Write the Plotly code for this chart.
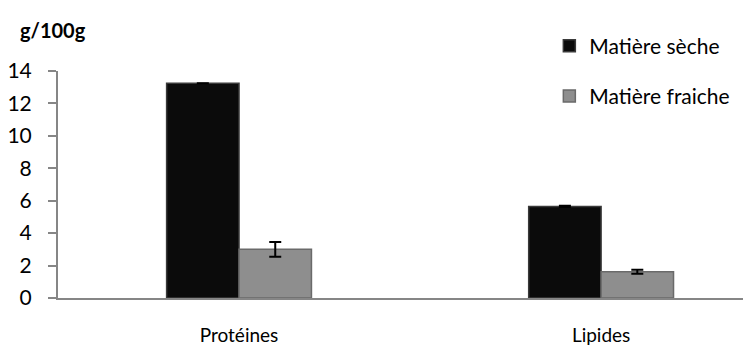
import plotly.graph_objects as go

categories = ["Protéines", "Lipides"]
seche_values = [13.25, 5.65]
seche_errors = [None, 0.04]
fraiche_values = [3.0, 1.62]
fraiche_errors = [0.45, 0.13]
y_ticks = [0, 2, 4, 6, 8, 10, 12, 14]

FONT = "Lato"

fig = go.Figure()
fig.add_trace(go.Bar(
    x=categories, y=seche_values, name="Matière sèche",
    legendgroup="a",
    marker=dict(color="#0b0b0b", line=dict(color="#3a3a3a", width=1.5)),
    error_y=dict(type="data", array=seche_errors, color="#000000", thickness=2, width=6),
))
fig.add_trace(go.Bar(
    x=categories, y=fraiche_values, name="Matière fraiche",
    legendgroup="b",
    marker=dict(color="#8e8e8e", line=dict(color="#6a6a6a", width=1.5)),
    error_y=dict(type="data", array=fraiche_errors, color="#000000", thickness=2, width=6),
))

# the page body adds an 8px margin, so the figure is drawn 8px smaller
fig.update_layout(
    width=743, height=343,
    margin=dict(l=50, r=0, t=63, b=53, autoexpand=False),
    plot_bgcolor="white", paper_bgcolor="white",
    barmode="group", bargap=0.6, bargroupgap=0,
    font=dict(family=FONT, size=20, color="#000000"),
    legend=dict(x=0.709, y=1.20, xanchor="left", yanchor="top",
                font=dict(size=21), tracegroupgap=20, traceorder="grouped",
                bgcolor="rgba(0,0,0,0)", itemwidth=30),
    showlegend=True,
    annotations=[dict(text="<b>g/100g</b>", xref="paper", yref="paper",
                      x=-0.0577, y=1.18, xanchor="left", yanchor="middle",
                      showarrow=False, font=dict(size=20, family=FONT))],
)
fig.update_xaxes(range=[-0.5, 1.414], showline=True, linecolor="#868686", linewidth=2,
                 ticks="", showgrid=False, ticklabelstandoff=19, tickfont=dict(size=19),
                 automargin=False)
fig.update_yaxes(range=[0, 14], tickvals=y_ticks, showline=True, linecolor="#868686",
                 linewidth=2, ticks="outside", ticklen=8, tickcolor="#868686", tickwidth=2,
                 showgrid=False, zeroline=False, ticklabelstandoff=12, automargin=False,
                 tickfont=dict(size=21))

fig.write_html("out.html")
